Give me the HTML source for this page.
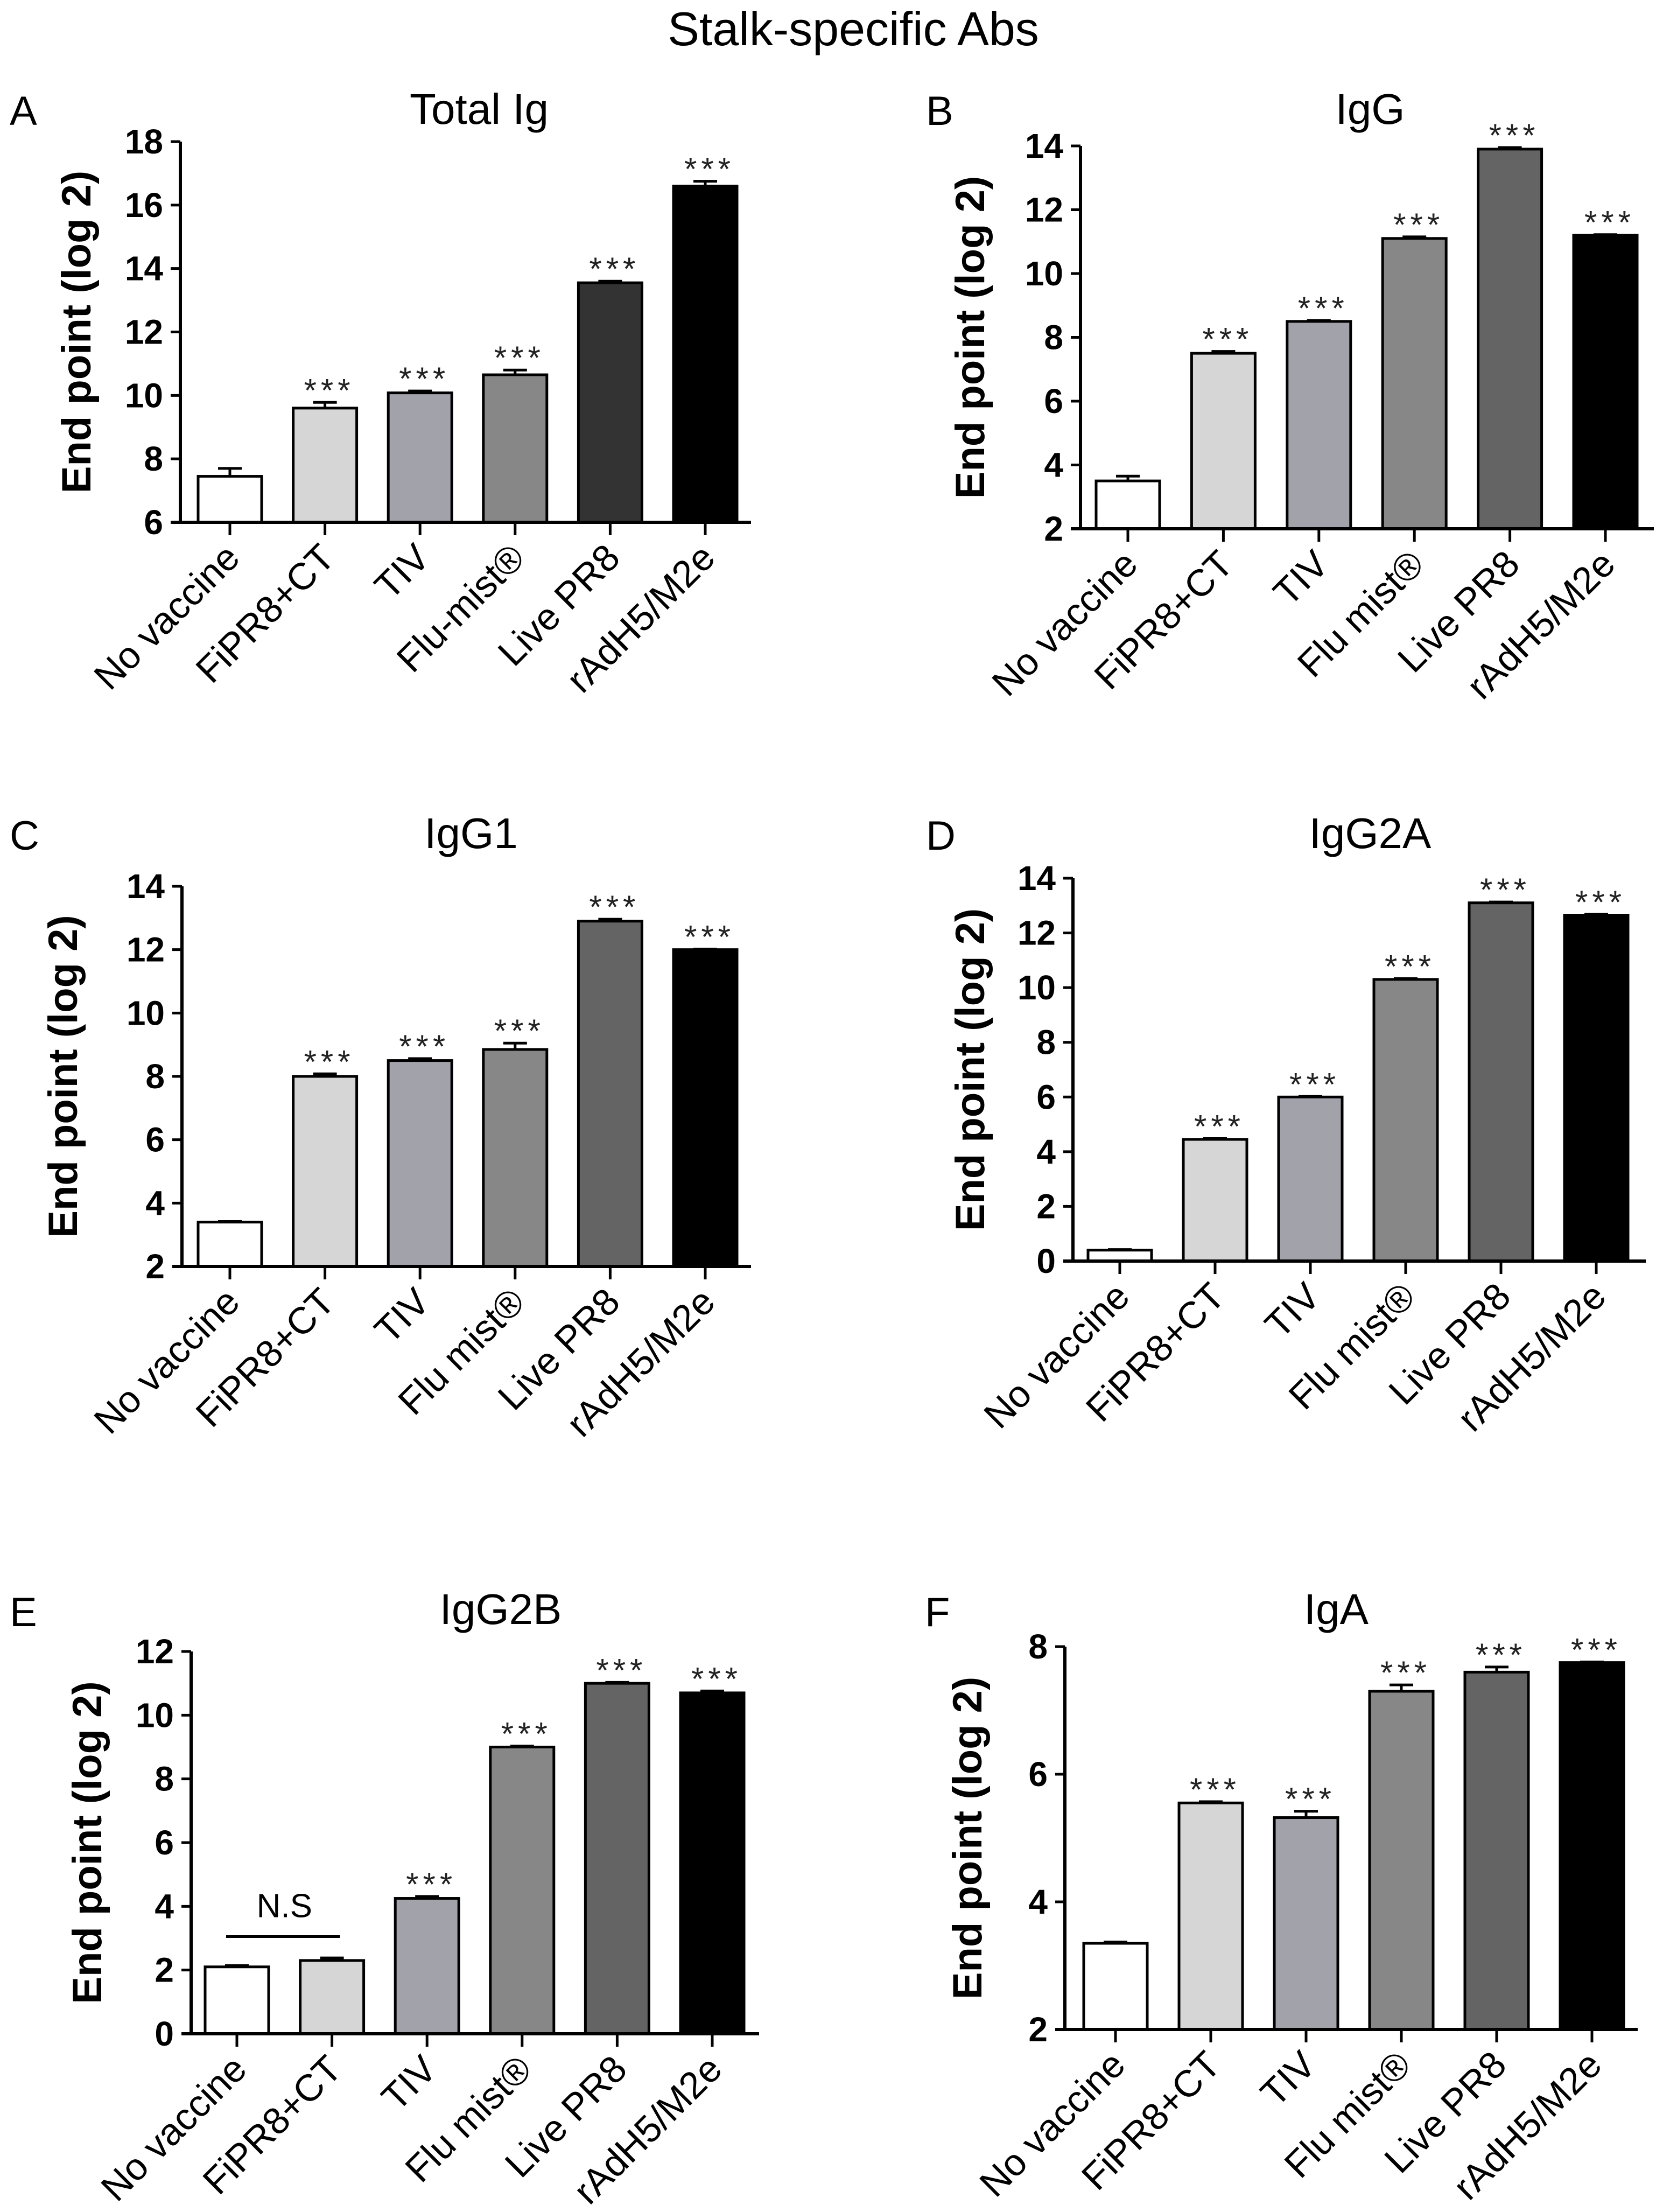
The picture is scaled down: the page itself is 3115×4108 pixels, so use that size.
<!DOCTYPE html>
<html><head><meta charset="utf-8"><style>
body{margin:0;background:#fff}
svg{display:block}
text{font-family:"Liberation Sans",Arial,sans-serif}
</style></head><body>
<svg id="fig" width="3115" height="4108" viewBox="0 0 3115 4108" xmlns="http://www.w3.org/2000/svg">
<rect width="3115" height="4108" fill="#fff"/>
<text x="1585" y="84" font-size="88" text-anchor="middle">Stalk-specific Abs</text>
</svg>
<script>
const categories = ["No vaccine","FiPR8+CT","TIV","Flu-mist®","Live PR8","rAdH5/M2e"];
const categoriesAlt = ["No vaccine","FiPR8+CT","TIV","Flu mist®","Live PR8","rAdH5/M2e"];
const valuesA = [7.45, 9.6, 10.08, 10.65, 13.55, 16.6];
const errA = [0.25, 0.18, 0.06, 0.15, 0.05, 0.15];
const valuesB = [3.5, 7.5, 8.5, 11.1, 13.9, 11.2];
const errB = [0.15, 0.06, 0.03, 0.05, 0.05, 0.02];
const valuesC = [3.4, 8.0, 8.5, 8.85, 12.9, 12.0];
const errC = [0.02, 0.08, 0.06, 0.2, 0.06, 0.02];
const valuesD = [0.4, 4.45, 6.0, 10.3, 13.1, 12.65];
const errD = [0.02, 0.03, 0.02, 0.03, 0.03, 0.03];
const valuesE = [2.1, 2.3, 4.25, 9.0, 11.0, 10.7];
const errE = [0.04, 0.08, 0.06, 0.03, 0.03, 0.06];
const valuesF = [3.35, 5.55, 5.32, 7.3, 7.6, 7.75];
const errF = [0.02, 0.02, 0.1, 0.1, 0.08, 0.01];
const ticksA = [6,8,10,12,14,16,18];
const ticksB = [2,4,6,8,10,12,14];
const ticksC = [2,4,6,8,10,12,14];
const ticksD = [0,2,4,6,8,10,12,14];
const ticksE = [0,2,4,6,8,10,12];
const ticksF = [2,4,6,8];
const starsDefault = [false,true,true,true,true,true];
const starsE = [false,false,true,true,true,true];

const NS = "http://www.w3.org/2000/svg";
const svg = document.getElementById('fig');
function mk(tag, attrs, parent){const e=document.createElementNS(NS,tag);for(const k in attrs)e.setAttribute(k,attrs[k]);(parent||svg).appendChild(e);return e;}

const panels = [
 {id:'a',letter:'A',title:'Total Ig',cats:categories,vals:valuesA,err:errA,ticks:ticksA,stars:starsDefault,ax:335,top:263,bot:970,xEnd:1395,c0:427,step:176.6,tx:890,ty:230,lx:18,ly:232,ylx:140,dark:'#333333'},
 {id:'b',letter:'B',title:'IgG',cats:categoriesAlt,vals:valuesB,err:errB,ticks:ticksB,stars:starsDefault,ax:2007,top:271,bot:982,xEnd:3072,c0:2095,step:177.4,tx:2545,ty:230,lx:1720,ly:232,ylx:1800,dark:'#646464'},
 {id:'c',letter:'C',title:'IgG1',cats:categoriesAlt,vals:valuesC,err:errC,ticks:ticksC,stars:starsDefault,ax:338,top:1646,bot:2352,xEnd:1395,c0:427,step:176.6,tx:875,ty:1575,lx:18,ly:1578,ylx:115,dark:'#646464'},
 {id:'d',letter:'D',title:'IgG2A',cats:categoriesAlt,vals:valuesD,err:errD,ticks:ticksD,stars:starsDefault,ax:1993,top:1631,bot:2342,xEnd:3057,c0:2080,step:177,tx:2545,ty:1575,lx:1720,ly:1578,ylx:1800,dark:'#646464'},
 {id:'e',letter:'E',title:'IgG2B',cats:categoriesAlt,vals:valuesE,err:errE,ticks:ticksE,stars:starsE,ax:355,top:3067,bot:3777,xEnd:1410,c0:440,step:176.6,tx:930,ty:3016,lx:18,ly:3020,ylx:160,dark:'#646464'},
 {id:'f',letter:'F',title:'IgA',cats:categoriesAlt,vals:valuesF,err:errF,ticks:ticksF,stars:starsDefault,ax:1978,top:3058,bot:3769,xEnd:3042,c0:2072,step:177,tx:2482,ty:3016,lx:1718,ly:3020,ylx:1795,dark:'#646464'}
];

panels.forEach(p=>{
  const g = mk('g',{});
  
  
  const tmin=p.ticks[0], tmax=p.ticks[p.ticks.length-1];
  const y = v => p.bot - (v - tmin)/(tmax - tmin)*(p.bot - p.top);
  const xc = i => p.c0 + i*p.step;
  const fills = ['#ffffff','#d6d6d6','#a2a2aa','#878787',p.dark,'#000000'];
  const lt = mk('text',{x:p.lx,y:p.ly,'font-size':76},g); lt.textContent=p.letter;
  
  
  const tt = mk('text',{x:p.tx,y:p.ty,'font-size':80,'text-anchor':'middle'},g); tt.textContent=p.title;
  
  
  const yl = mk('text',{x:0,y:0,'font-size':76,'font-weight':'bold','text-anchor':'middle',transform:`translate(${p.ylx+28},${(p.top+p.bot)/2}) rotate(-90)`},g);
  yl.textContent='End point (log 2)';
  
  
  p.vals.forEach((v,i)=>{
    const cx=xc(i), w=118, yt=y(v);
    const bar=mk('rect',{x:cx-w/2,y:yt,width:w,height:p.bot-yt,fill:fills[i],stroke:'#000','stroke-width':5},g);
    
    
    const ye=y(v+p.err[i]);
    const eb=mk('path',{d:`M${cx} ${yt} V${ye} M${cx-22} ${ye} H${cx+22}`,stroke:'#000','stroke-width':5,fill:'none'},g);
    
    
    if(p.stars[i]){
      const st=mk('text',{x:cx+8,y:ye-2,'font-size':60,'letter-spacing':8,'text-anchor':'middle',fill:'#222'},g);
      st.textContent='***';
      
      
    }
    const tk=mk('line',{x1:cx,y1:p.bot,x2:cx,y2:p.bot+24,stroke:'#000','stroke-width':5},g);
    
    
    const lb=mk('text',{x:0,y:0,'font-size':70,'text-anchor':'end',transform:`translate(${cx+22},${p.bot+70}) rotate(-45)`},g);
    lb.textContent=p.cats[i];
    
    
  });
  const ax=mk('path',{d:`M${p.ax} ${p.top} V${p.bot} M${p.ax-18} ${p.bot} H${p.xEnd}`,stroke:'#000','stroke-width':6,fill:'none'},g);
  
  
  p.ticks.forEach(t=>{
    const ty=y(t);
    const l=mk('line',{x1:p.ax-18,y1:ty,x2:p.ax,y2:ty,stroke:'#000','stroke-width':5},g);
    
    
    const tl=mk('text',{x:p.ax-32,y:ty+22,'font-size':64,'font-weight':'bold','text-anchor':'end'},g);
    tl.textContent=t;
    
    
  });
  if(p.id==='e'){
    const yns=y(3.05);
    const nl=mk('line',{x1:xc(0)-20,y1:yns,x2:xc(1)+15,y2:yns,stroke:'#000','stroke-width':5},g);
    
    
    const nt=mk('text',{x:(xc(0)+xc(1))/2,y:yns-36,'font-size':62,'text-anchor':'middle'},g);
    nt.textContent='N.S';
    
    
  }
});
</script>
</body></html>
